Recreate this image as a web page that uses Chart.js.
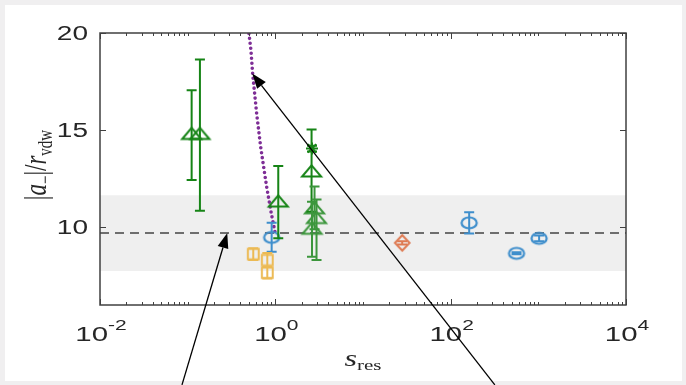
<!DOCTYPE html>
<html>
<head>
<meta charset="utf-8">
<script src="https://cdn.jsdelivr.net/npm/chart.js@4.4.1/dist/chart.umd.min.js"></script>
<style>
  html, body { margin: 0; padding: 0; background: #f0eff0; }
  #panel { position: absolute; left: 5px; top: 5px; width: 677px; height: 376px; background: #ffffff; }
  #c { position: absolute; left: 0; top: 0; }
</style>
</head>
<body>
<div id="panel"></div>
<canvas id="c" width="686" height="385" style="width:686px;height:385px"></canvas>
<script>
// ---- axes ----
const xRange = [0.01, 10000];
const yRange = [6, 20];
const xTickValues = [0.01, 1, 100, 10000];
const xTickExponents = ['-2', '0', '2', '4'];
const yTickValues = [10, 15, 20];

// ---- shaded band and its centre line ----
const bandLow = 7.75;
const bandHigh = 11.65;
const bandCentre = 9.7;

// ---- green triangles ----
const triS  = [0.111, 0.138, 1.08, 2.59];
const triA  = [14.83, 14.83, 11.35, 12.9];
const triLo = [12.43, 10.85, 9.43, 10.8];
const triHi = [17.05, 18.63, 13.15, 15.03];

// green triangles around s = 3
const tri2S  = [2.80, 2.95, 2.62];
const tri2A  = [11.0, 10.5, 9.95];
const tri2Lo = [9.9, 8.31, 8.48];
const tri2Hi = [12.1, 11.43, 11.31];

// ---- green asterisk ----
const starS  = [2.62];
const starA  = [14.06];
const starLo = [13.9];
const starHi = [14.2];

// ---- blue circles ----
const circS  = [0.908, 162.6, 564, 1021];
const circA  = [9.48, 10.23, 8.66, 9.43];
const circLo = [8.74, 9.68, 8.61, 9.28];
const circHi = [10.23, 10.78, 8.71, 9.58];

// ---- yellow squares ----
const sqS  = [0.56, 0.81, 0.81];
const sqA  = [8.62, 8.31, 7.66];
const sqLo = [8.32, 7.94, 7.36];
const sqHi = [8.92, 8.68, 7.96];

// ---- orange diamond ----
const diaS  = [28];
const diaA  = [9.2];
const diaLo = [9.12];
const diaHi = [9.28];

// ---- purple dotted curve ----
const curveS = [0.50, 0.527, 0.551, 0.612, 0.68, 0.796, 0.90, 0.989];
const curveA = [19.98, 19.11, 17.91, 15.86, 14.14, 12.08, 10.71, 9.77];

// ---- arrows (tail -> head) ----
const arrowTailS = [0.0861, 319];
const arrowTailA = [1.89, 1.89];
const arrowHeadS = [0.283, 0.545];
const arrowHeadA = [9.7, 17.91];

// ---- colours ----
const GREEN = 'rgb(22,132,22)';
const GREEN_LIGHT = 'rgb(60,150,60)';
const BLUE = 'rgb(62,142,204)';
const ORANGE = 'rgb(222,122,82)';
const YELLOW = 'rgb(236,186,84)';
const PURPLE = 'rgb(126,46,150)';
const AXIS = '#404040';
const TEXT = '#262626';
const STRETCH = 1.4;   // horizontal stretch of glyphs

function points(xs, ys, lo, hi) {
  return xs.map((x, i) => ({ x: x, y: ys[i], lo: lo ? lo[i] : undefined, hi: hi ? hi[i] : undefined }));
}

// Open marker shapes drawn on small canvases, used as point styles
function marker(shape, rx, ry, color, lw) {
  const c = document.createElement('canvas');
  c.width = Math.ceil(2 * rx + 2 * lw + 2);
  c.height = Math.ceil(2 * ry + 2 * lw + 2);
  const g = c.getContext('2d');
  g.translate(c.width / 2, c.height / 2);
  g.strokeStyle = color;
  g.lineWidth = lw;
  g.beginPath();
  if (shape === 'ellipse') {
    g.ellipse(0, 0, rx, ry, 0, 0, Math.PI * 2);
  } else if (shape === 'triangle') {
    g.moveTo(0, -ry); g.lineTo(rx, ry); g.lineTo(-rx, ry); g.closePath();
  } else if (shape === 'square') {
    g.rect(-rx, -ry, 2 * rx, 2 * ry);
  } else if (shape === 'diamond') {
    g.moveTo(0, -ry); g.lineTo(rx, 0); g.lineTo(0, ry); g.lineTo(-rx, 0); g.closePath();
  }
  g.stroke();
  return c;
}

const triMarker = marker('triangle', 9.5, 5.6, GREEN, 2);
const triMarkerLight = marker('triangle', 9.5, 5.6, GREEN_LIGHT, 2);
const circMarker = marker('ellipse', 7.6, 5.5, BLUE, 2.2);
const sqMarker = marker('square', 5.4, 5.2, YELLOW, 2);
const diaMarker = marker('diamond', 7.3, 7.8, ORANGE, 2);

function markerSet(label, data, style, color, extra) {
  return Object.assign({
    label: label,
    data: data,
    pointStyle: style,
    pointRadius: 8,
    pointHoverRadius: 8,
    borderColor: color,
    backgroundColor: 'rgba(0,0,0,0)',
    showLine: false,
    errorBars: true,
    capHalf: 5,
    order: 1
  }, extra || {});
}

// Vertical error bars with caps
const errorBarPlugin = {
  id: 'errorBars',
  afterDatasetsDraw(chart) {
    const ctx = chart.ctx, xs = chart.scales.x, ys = chart.scales.y;
    ctx.save();
    chart.data.datasets.forEach((ds) => {
      if (!ds.errorBars) return;
      ctx.strokeStyle = ds.borderColor;
      ctx.lineWidth = 2;
      ds.data.forEach((p) => {
        const px = xs.getPixelForValue(p.x);
        const y1 = ys.getPixelForValue(p.lo);
        const y2 = ys.getPixelForValue(p.hi);
        const c = ds.capHalf;
        ctx.beginPath();
        ctx.moveTo(px, y1); ctx.lineTo(px, y2);
        ctx.moveTo(px - c, y1); ctx.lineTo(px + c, y1);
        ctx.moveTo(px - c, y2); ctx.lineTo(px + c, y2);
        ctx.stroke();
      });
    });
    ctx.restore();
  }
};

// Text made of runs (normal / italic / sub / superscript)
function drawRuns(ctx, runs, x, y, align) {
  let w = 0;
  runs.forEach((r) => { ctx.font = r.font; r.w = ctx.measureText(r.text).width; w += r.w; });
  let cx = align === 'center' ? -w / 2 : (align === 'right' ? -w : 0);
  ctx.textAlign = 'left';
  runs.forEach((r) => { ctx.font = r.font; ctx.fillText(r.text, cx, y + (r.dy || 0)); cx += r.w; });
}

// Box, inward ticks, tick labels, axis titles and arrows
const framePlugin = {
  id: 'frame',
  afterDraw(chart) {
    const ctx = chart.ctx, xs = chart.scales.x, ys = chart.scales.y;
    const a = chart.chartArea;
    ctx.save();
    ctx.strokeStyle = AXIS;
    ctx.lineWidth = 1.5;
    ctx.strokeRect(a.left, a.top, a.right - a.left, a.bottom - a.top);

    // log ticks on the x axis
    ctx.lineWidth = 1;
    ctx.beginPath();
    const d0 = Math.round(Math.log10(xRange[0])), d1 = Math.round(Math.log10(xRange[1]));
    for (let d = d0; d <= d1; d++) {
      for (let m = 1; m <= 9; m++) {
        const v = m * Math.pow(10, d);
        if (v > xRange[1] * 1.0001) break;
        const px = Math.round(xs.getPixelForValue(v)) + 0.5;
        const major = xTickValues.some((t) => Math.abs(t - v) / v < 1e-6);
        const len = major ? 6 : 3;
        ctx.moveTo(px, a.bottom); ctx.lineTo(px, a.bottom - len);
        ctx.moveTo(px, a.top); ctx.lineTo(px, a.top + len);
      }
    }
    // y ticks
    yTickValues.forEach((v) => {
      const py = Math.round(ys.getPixelForValue(v)) + 0.5;
      ctx.moveTo(a.left, py); ctx.lineTo(a.left + 6, py);
      ctx.moveTo(a.right, py); ctx.lineTo(a.right - 6, py);
    });
    ctx.stroke();

    ctx.fillStyle = TEXT;
    ctx.textBaseline = 'alphabetic';
    // y tick labels
    yTickValues.forEach((v) => {
      const py = ys.getPixelForValue(v);
      ctx.save();
      ctx.translate(88, py + 7);
      ctx.scale(STRETCH, 1);
      ctx.font = '20px "Liberation Sans"';
      ctx.textAlign = 'right';
      ctx.fillText(String(v), 0, 0);
      ctx.restore();
    });
    // x tick labels: 10 with exponent
    xTickValues.forEach((v, i) => {
      const px = xs.getPixelForValue(v);
      ctx.save();
      ctx.translate(px + 1, 341);
      ctx.scale(STRETCH, 1);
      drawRuns(ctx, [
        { text: '10', font: '21px "Liberation Sans"' },
        { text: xTickExponents[i], font: '15px "Liberation Sans"', dy: -11 }
      ], 0, 0, 'center');
      ctx.restore();
    });

    // x axis title
    ctx.save();
    ctx.translate((a.left + a.right) / 2, 366);
    ctx.scale(STRETCH, 1);
    drawRuns(ctx, [
      { text: 's', font: 'italic 23px "Liberation Serif"' },
      { text: 'res', font: '15px "Liberation Serif"', dy: 4 }
    ], 0, 0, 'center');
    ctx.restore();

    // y axis title
    ctx.save();
    ctx.translate(46, (a.top + a.bottom) / 2 - 4);
    ctx.rotate(-Math.PI / 2);
    ctx.scale(1, STRETCH);
    drawRuns(ctx, [
      { text: '|', font: '23px "Liberation Serif"' },
      { text: 'a', font: 'italic 23px "Liberation Serif"' },
      { text: '\u2212', font: '15px "Liberation Serif"', dy: 4 },
      { text: '|/', font: '23px "Liberation Serif"' },
      { text: 'r', font: 'italic 23px "Liberation Serif"' },
      { text: 'vdw', font: '15px "Liberation Serif"', dy: 4 }
    ], 0, 0, 'center');
    ctx.restore();

    // arrows
    ctx.strokeStyle = '#000';
    ctx.fillStyle = '#000';
    ctx.lineWidth = 1.3;
    arrowTailS.forEach((s, i) => {
      const x0 = xs.getPixelForValue(s), y0 = ys.getPixelForValue(arrowTailA[i]);
      const x1 = xs.getPixelForValue(arrowHeadS[i]), y1 = ys.getPixelForValue(arrowHeadA[i]);
      const ang = Math.atan2(y1 - y0, x1 - x0);
      const L = 15, W = 5.5;
      const bx = x1 - L * Math.cos(ang), by = y1 - L * Math.sin(ang);
      ctx.beginPath();
      ctx.moveTo(x0, y0); ctx.lineTo(bx, by);
      ctx.stroke();
      ctx.beginPath();
      ctx.moveTo(x1, y1);
      ctx.lineTo(bx + W * Math.sin(ang), by - W * Math.cos(ang));
      ctx.lineTo(bx - W * Math.sin(ang), by + W * Math.cos(ang));
      ctx.closePath();
      ctx.fill();
    });
    ctx.restore();
  }
};

const datasets = [
  markerSet('triangles', points(triS, triA, triLo, triHi), triMarker, GREEN),
  markerSet('triangles near 3', points(tri2S, tri2A, tri2Lo, tri2Hi), triMarkerLight, GREEN_LIGHT),
  markerSet('asterisk', points(starS, starA, starLo, starHi), 'star', GREEN, { pointRadius: 6, borderWidth: 2 }),
  markerSet('circles', points(circS, circA, circLo, circHi), circMarker, BLUE),
  markerSet('squares', points(sqS, sqA, sqLo, sqHi), sqMarker, YELLOW),
  markerSet('diamond', points(diaS, diaA, diaLo, diaHi), diaMarker, ORANGE),
  {
    label: 'curve',
    data: points(curveS, curveA),
    showLine: true,
    borderColor: PURPLE,
    borderWidth: 3.6,
    borderDash: [0, 5],
    borderCapStyle: 'round',
    pointRadius: 0,
    fill: false,
    order: 2
  },
  {
    label: 'centre',
    data: [{ x: xRange[0], y: bandCentre }, { x: xRange[1], y: bandCentre }],
    showLine: true,
    borderColor: '#6e6e6e',
    borderWidth: 2,
    borderDash: [9, 6],
    pointRadius: 0,
    fill: false,
    order: 3
  },
  {
    label: 'band top',
    data: [{ x: xRange[0], y: bandHigh }, { x: xRange[1], y: bandHigh }],
    showLine: true,
    borderWidth: 0,
    borderColor: 'rgba(0,0,0,0)',
    backgroundColor: '#efefef',
    pointRadius: 0,
    fill: '+1',
    order: 4
  },
  {
    label: 'band bottom',
    data: [{ x: xRange[0], y: bandLow }, { x: xRange[1], y: bandLow }],
    showLine: true,
    borderWidth: 0,
    borderColor: 'rgba(0,0,0,0)',
    pointRadius: 0,
    fill: false,
    order: 4
  }
];

new Chart(document.getElementById('c'), {
  type: 'scatter',
  data: { datasets: datasets },
  options: {
    responsive: false,
    animation: false,
    devicePixelRatio: 1,
    layout: { padding: { left: 100, right: 60, top: 33, bottom: 80 } },
    scales: {
      x: { type: 'logarithmic', min: xRange[0], max: xRange[1], display: false },
      y: { type: 'linear', min: yRange[0], max: yRange[1], display: false }
    },
    plugins: { legend: { display: false }, tooltip: { enabled: false } },
    events: []
  },
  plugins: [errorBarPlugin, framePlugin]
});
</script>
</body>
</html>
